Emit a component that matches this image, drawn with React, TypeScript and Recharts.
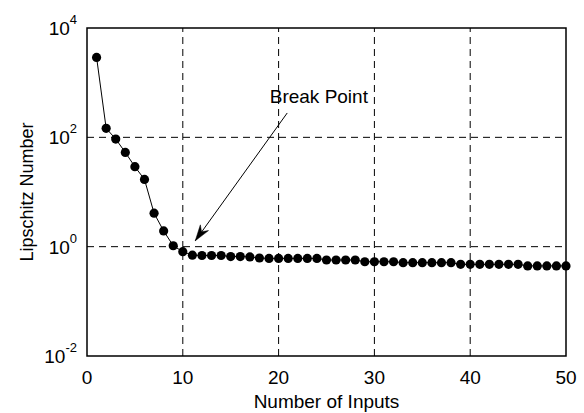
import React from "react";
import {
  LineChart,
  Line,
  XAxis,
  YAxis,
  ReferenceLine,
  ReferenceArea,
  ReferenceDot,
} from "recharts";

const inputs = [
  1, 2, 3, 4, 5, 6, 7, 8, 9, 10,
  11, 12, 13, 14, 15, 16, 17, 18, 19, 20,
  21, 22, 23, 24, 25, 26, 27, 28, 29, 30,
  31, 32, 33, 34, 35, 36, 37, 38, 39, 40,
  41, 42, 43, 44, 45, 46, 47, 48, 49, 50,
];

const lipschitz = [
  2900, 146, 93, 53, 29, 17, 4.1, 1.94, 1.04, 0.81,
  0.7, 0.69, 0.69, 0.69, 0.66, 0.66, 0.65, 0.62, 0.61, 0.61,
  0.61, 0.61, 0.61, 0.61, 0.57, 0.57, 0.57, 0.57, 0.53, 0.53,
  0.53, 0.53, 0.51, 0.51, 0.51, 0.51, 0.51, 0.51, 0.475, 0.475,
  0.475, 0.475, 0.475, 0.475, 0.475, 0.445, 0.445, 0.445, 0.445, 0.445,
];

const xTicks = [0, 10, 20, 30, 40, 50];
const yTicks = [0.01, 1, 100, 10000];
const xGrid = [10, 20, 30, 40];
const yGrid = [1, 100];

const annotationText = "Break Point";
const arrowStart = { x: 20.9, y: 279 };
const arrowTip = { x: 11.3, y: 1.28 };
const textAnchorPt = { x: 24.2, y: 570 };

const data = inputs.map((x, i) => ({ x, y: lipschitz[i] }));

const FONT = "'Liberation Sans', Arial, Helvetica, sans-serif";
const FS = 19;

const YTick = (props: any) => {
  const { x, y, payload } = props;
  const exp = Math.round(Math.log10(payload.value));
  return (
    <text
      x={x}
      y={y + 7}
      textAnchor="end"
      fontSize={FS}
      fontFamily={FONT}
      fill="#000"
    >
      <tspan>10</tspan>
      <tspan dy={-11} fontSize={13}>
        {String(exp)}
      </tspan>
    </text>
  );
};

const XTick = (props: any) => {
  const { x, y, payload } = props;
  return (
    <text
      x={x}
      y={y + 20}
      textAnchor="middle"
      fontSize={FS}
      fontFamily={FONT}
      fill="#000"
    >
      {payload.value}
    </text>
  );
};

const ArrowHead = (props: any) => {
  const { cx, cy } = props;
  const ux = -0.574;
  const uy = 0.819;
  const nx = 0.819;
  const ny = 0.574;
  const L = 16;
  const W = 5;
  const bx = cx - L * ux;
  const by = cy - L * uy;
  const mx = cx - 11 * ux;
  const my = cy - 11 * uy;
  const pts = [
    [cx, cy],
    [bx + W * nx, by + W * ny],
    [mx, my],
    [bx - W * nx, by - W * ny],
  ]
    .map((p) => p.join(","))
    .join(" ");
  return <polygon points={pts} fill="#000" stroke="#000" strokeWidth={0.5} />;
};

const AnnotationText = (props: any) => {
  const { cx, cy } = props;
  return (
    <text
      x={cx}
      y={cy}
      textAnchor="middle"
      dominantBaseline="central"
      fontSize={FS}
      fontFamily={FONT}
      fill="#000"
    >
      {annotationText}
    </text>
  );
};

export default function App() {
  return (
    <div style={{ position: "absolute", left: 0, top: 0, background: "#fff" }}>
      <LineChart
        width={584}
        height={413}
        data={data}
        margin={{ top: 28, right: 18, bottom: 0, left: 0 }}
        style={{ fontFamily: FONT }}
      >
        <XAxis
          dataKey="x"
          type="number"
          domain={[0, 50]}
          ticks={xTicks}
          interval={0}
          axisLine={false}
          tickLine={false}
          height={57}
          tick={<XTick />}
          label={(p: any) => {
            const vb = p.viewBox;
            return (
              <text
                x={vb.x + vb.width / 2}
                y={vb.y + 45}
                textAnchor="middle"
                dominantBaseline="central"
                fontSize={FS}
                fontFamily={FONT}
                fill="#000"
              >
                Number of Inputs
              </text>
            );
          }}
        />
        <YAxis
          dataKey="y"
          type="number"
          scale="log"
          domain={[0.01, 10000]}
          allowDataOverflow
          ticks={yTicks}
          interval={0}
          axisLine={false}
          tickLine={false}
          width={87}
          tickMargin={4}
          tick={<YTick />}
          label={(p: any) => {
            const vb = p.viewBox;
            const cx = vb.x + 27;
            const cy = vb.y + vb.height / 2;
            return (
              <text
                x={cx}
                y={cy}
                transform={`rotate(-90, ${cx}, ${cy})`}
                textAnchor="middle"
                dominantBaseline="central"
                fontSize={18}
                fontFamily={FONT}
                fill="#000"
              >
                Lipschitz Number
              </text>
            );
          }}
        />
        {xGrid.map((v) => (
          <ReferenceLine
            key={`vx${v}`}
            x={v}
            stroke="#000"
            strokeWidth={1}
            strokeDasharray="7 5"
          />
        ))}
        {yGrid.map((v) => (
          <ReferenceLine
            key={`hy${v}`}
            y={v}
            stroke="#000"
            strokeWidth={1}
            strokeDasharray="7 5"
          />
        ))}
        <ReferenceArea
          x1={0}
          x2={50}
          y1={0.01}
          y2={10000}
          fill="none"
          fillOpacity={0}
          stroke="#000"
          strokeWidth={1.5}
        />
        <ReferenceLine
          segment={[arrowStart, arrowTip]}
          stroke="#000"
          strokeWidth={1}
        />
        <ReferenceDot x={arrowTip.x} y={arrowTip.y} shape={<ArrowHead />} />
        <ReferenceDot
          x={textAnchorPt.x}
          y={textAnchorPt.y}
          shape={<AnnotationText />}
        />
        <Line
          type="linear"
          dataKey="y"
          stroke="#000"
          strokeWidth={1}
          dot={{ r: 4.6, fill: "#000", stroke: "#000", strokeWidth: 0 }}
          isAnimationActive={false}
        />
      </LineChart>
    </div>
  );
}
